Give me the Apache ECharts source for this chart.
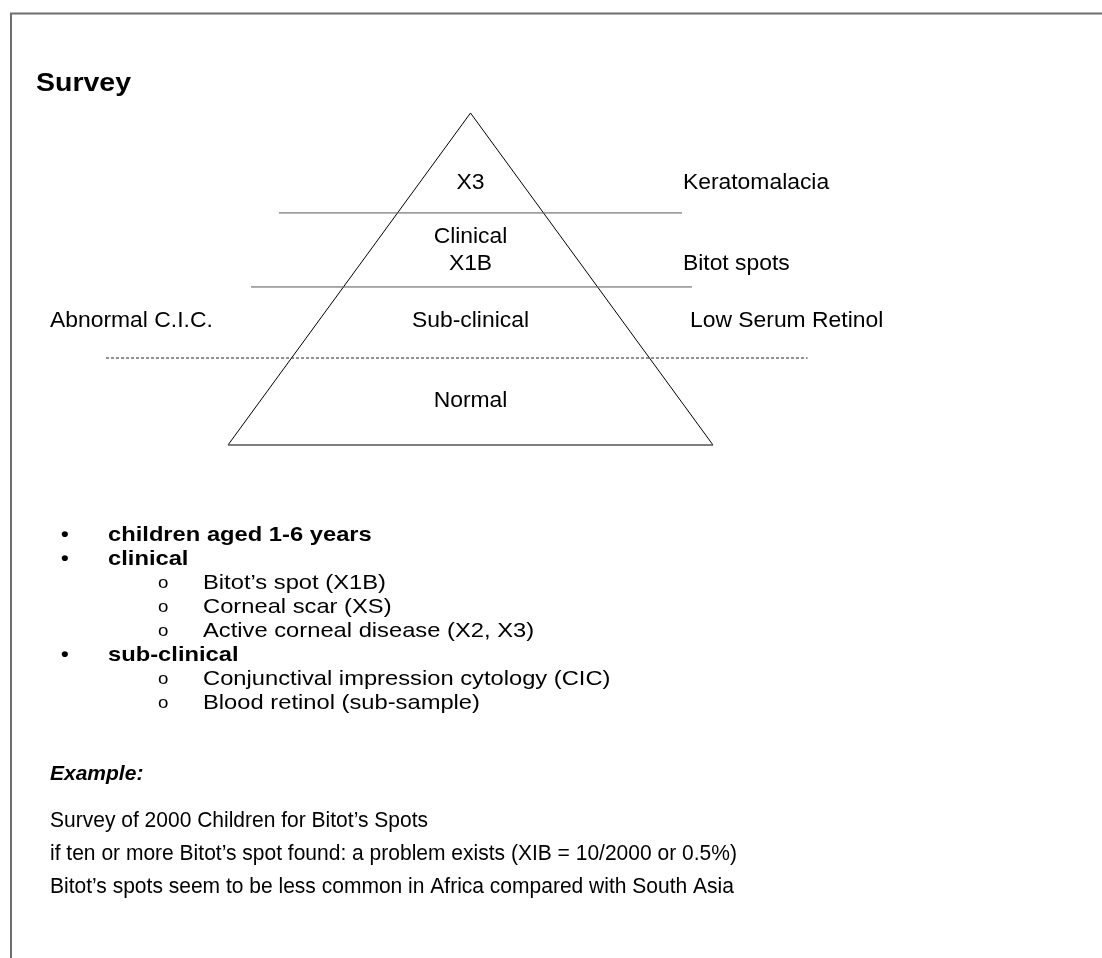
<!DOCTYPE html>
<html>
<head>
<meta charset="utf-8">
<script src="https://cdn.jsdelivr.net/npm/echarts@6/dist/echarts.min.js"></script>
<style>
html,body{margin:0;padding:0;background:#fff;}
#chart{width:1102px;height:958px;}
</style>
</head>
<body>
<div id="chart"></div>
<script>
// ---- data ----
var title = 'Survey';
// pyramid outline (x: -1..1 across the base, y: 0 base .. 1 apex)
var pyramidSides = [[-1, 0], [0, 1], [1, 0]];
var pyramidBase = [[-1, 0], [1, 0]];
// divider lines: height, left end, right end, dashed
var dividerHeights = [0.699, 0.476, 0.262];
var dividerLeft = [-0.79, -0.905, -1.503];
var dividerRight = [0.872, 0.913, 1.39];
var dividerDashed = [false, false, true];
// labels inside the pyramid
var levelLabels = ['X3', 'Clinical', 'X1B', 'Sub-clinical', 'Normal'];
var levelHeights = [0.789, 0.627, 0.545, 0.373, 0.133];
// side labels
var sideLabels = ['Keratomalacia', 'Bitot spots', 'Low Serum Retinol', 'Abnormal C.I.C.'];
var sideX = [0.876, 0.876, 0.905, -1.734];
var sideHeights = [0.789, 0.545, 0.373, 0.373];
// bullet list
var bulletTexts = ['children aged 1-6 years', 'clinical', 'Bitot\u2019s spot (X1B)', 'Corneal scar (XS)',
  'Active corneal disease (X2, X3)', 'sub-clinical', 'Conjunctival impression cytology (CIC)', 'Blood retinol (sub-sample)'];
var bulletLevels = [0, 0, 1, 1, 1, 0, 1, 1];
// example
var exampleHeading = 'Example:';
var exampleLines = ['Survey of 2000 Children for Bitot\u2019s Spots',
  'if ten or more Bitot\u2019s spot found: a problem exists (XIB = 10/2000 or 0.5%)',
  'Bitot\u2019s spots seem to be less common in Africa compared with South Asia'];

// ---- build ----
var FONT = '"Liberation Sans", Arial, sans-serif';
var chart = echarts.init(document.getElementById('chart'), null, {renderer: 'canvas'});

var series = [];
series.push({
  type: 'line', data: pyramidSides, symbol: 'none', clip: false, silent: true,
  lineStyle: {color: '#000', width: 1}
});
series.push({
  type: 'line', data: pyramidBase, symbol: 'none', clip: false, silent: true,
  lineStyle: {color: '#555', width: 1.6}
});
dividerHeights.forEach(function (h, i) {
  series.push({
    type: 'line', data: [[dividerLeft[i], h], [dividerRight[i], h]], symbol: 'none', clip: false, silent: true,
    lineStyle: {color: dividerDashed[i] ? '#222' : '#555', width: 1, type: dividerDashed[i] ? [3, 2] : 'solid'}
  });
});

chart.setOption({
  backgroundColor: '#fff',
  animation: false,
  grid: {left: 34, top: 113, width: 873, height: 332},
  xAxis: {type: 'value', min: -1.8, max: 1.8, show: false},
  yAxis: {type: 'value', min: 0, max: 1, show: false},
  series: series
});

var graphics = [];
graphics.push({
  type: 'polyline', shape: {points: [[11, 958], [11, 13.5], [1102, 13.5]]},
  style: {stroke: '#6e6e6e', lineWidth: 2, fill: null}
});
graphics.push({
  type: 'text', x: 36, y: 84, scaleX: 1.14,
  style: {text: title, font: 'bold 25px ' + FONT, fill: '#000', textVerticalAlign: 'middle'}
});
levelLabels.forEach(function (t, i) {
  var p = chart.convertToPixel({gridIndex: 0}, [0, levelHeights[i]]);
  graphics.push({
    type: 'text', x: p[0], y: p[1], scaleX: 1.04,
    style: {text: t, font: '22px ' + FONT, fill: '#000', textAlign: 'center', textVerticalAlign: 'middle'}
  });
});
sideLabels.forEach(function (t, i) {
  var p = chart.convertToPixel({gridIndex: 0}, [sideX[i], sideHeights[i]]);
  graphics.push({
    type: 'text', x: p[0], y: p[1], scaleX: 1.04,
    style: {text: t, font: '22px ' + FONT, fill: '#000', textAlign: 'left', textVerticalAlign: 'middle'}
  });
});
bulletTexts.forEach(function (t, i) {
  var y = 535 + i * 24;
  var lvl = bulletLevels[i];
  graphics.push({
    type: 'text', x: lvl ? 158 : 61, y: y, scaleX: 1.1,
    style: {text: lvl ? 'o' : '\u2022', font: (lvl ? '17px ' : 'bold 20px ') + FONT, fill: '#000', textVerticalAlign: 'middle'}
  });
  graphics.push({
    type: 'text', x: lvl ? 203 : 108, y: y, scaleX: 1.13,
    style: {text: t, font: (lvl ? '' : 'bold ') + '21px ' + FONT, fill: '#000', textVerticalAlign: 'middle'}
  });
});
graphics.push({
  type: 'text', x: 50, y: 774,
  style: {text: exampleHeading, font: 'italic bold 21px ' + FONT, fill: '#000', textVerticalAlign: 'middle'}
});
exampleLines.forEach(function (t, i) {
  graphics.push({
    type: 'text', x: 50, y: 821 + i * 33, scaleX: 0.955,
    style: {text: t, font: '22px ' + FONT, fill: '#000', textVerticalAlign: 'middle'}
  });
});

chart.setOption({graphic: graphics});
</script>
</body>
</html>
